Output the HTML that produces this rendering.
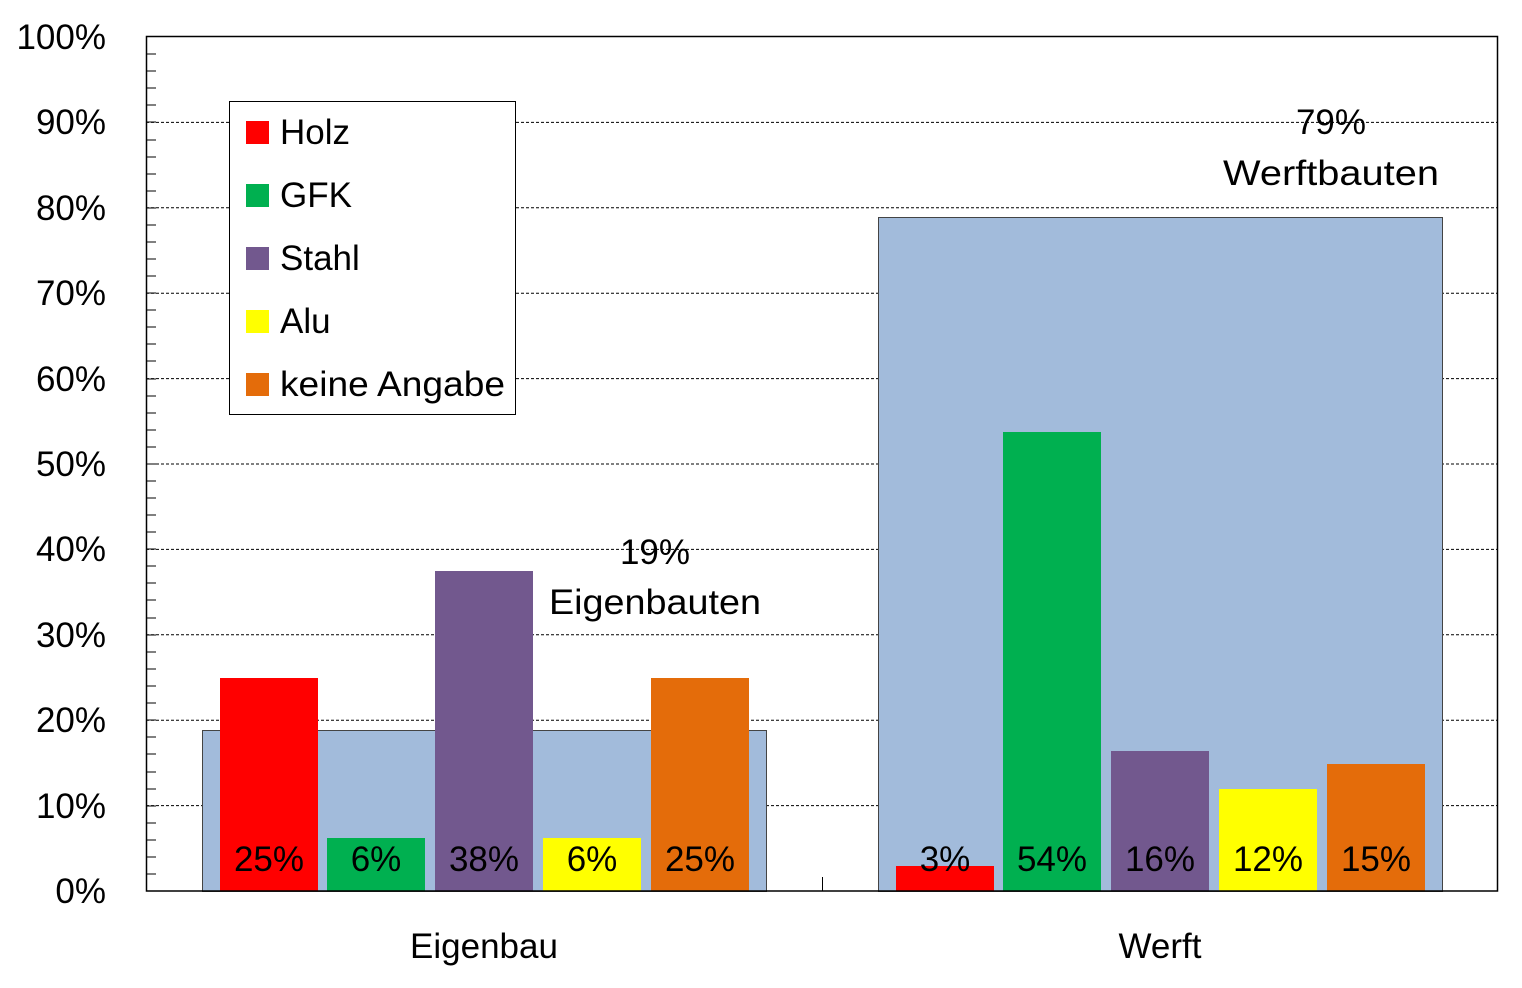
<!DOCTYPE html>
<html><head><style>
body{margin:0;background:#fff;}
svg text{font-family:"Liberation Sans",sans-serif;}
</style></head><body>
<svg width="1522" height="983" xmlns="http://www.w3.org/2000/svg">
<rect width="1522" height="983" fill="#fff"/>
<g stroke="#000" stroke-width="1" stroke-dasharray="3,2">
<line x1="146" x2="1498" y1="805.6" y2="805.6"/>
<line x1="146" x2="1498" y1="720.2" y2="720.2"/>
<line x1="146" x2="1498" y1="634.8" y2="634.8"/>
<line x1="146" x2="1498" y1="549.4" y2="549.4"/>
<line x1="146" x2="1498" y1="464" y2="464"/>
<line x1="146" x2="1498" y1="378.6" y2="378.6"/>
<line x1="146" x2="1498" y1="293.2" y2="293.2"/>
<line x1="146" x2="1498" y1="207.8" y2="207.8"/>
<line x1="146" x2="1498" y1="122.4" y2="122.4"/>
</g>
<rect x="202.5" y="730.5" width="564" height="161" fill="#a2bbdb" stroke="#444" stroke-width="1"/>
<rect x="878.5" y="217.5" width="564" height="674" fill="#a2bbdb" stroke="#444" stroke-width="1"/>
<rect x="220" y="678" width="98" height="213" fill="#ff0000"/>
<rect x="327" y="838" width="98" height="53" fill="#00b050"/>
<rect x="435" y="571" width="98" height="320" fill="#72588e"/>
<rect x="543" y="838" width="98" height="53" fill="#ffff00"/>
<rect x="651" y="678" width="98" height="213" fill="#e46c0a"/>
<rect x="896" y="866" width="98" height="25" fill="#ff0000"/>
<rect x="1003" y="432" width="98" height="459" fill="#00b050"/>
<rect x="1111" y="751" width="98" height="140" fill="#72588e"/>
<rect x="1219" y="789" width="98" height="102" fill="#ffff00"/>
<rect x="1327" y="764" width="98" height="127" fill="#e46c0a"/>
<g font-size="35" text-anchor="middle" fill="#000">
<text x="269" y="871">25%</text><text x="376" y="871">6%</text><text x="484" y="871">38%</text><text x="592" y="871">6%</text><text x="700" y="871">25%</text>
<text x="945" y="871">3%</text><text x="1052" y="871">54%</text><text x="1160" y="871">16%</text><text x="1268" y="871">12%</text><text x="1376" y="871">15%</text>
<text x="655" y="564">19%</text><text x="655" y="614" textLength="212" lengthAdjust="spacingAndGlyphs">Eigenbauten</text>
<text x="1331" y="134">79%</text><text x="1331" y="185" textLength="216" lengthAdjust="spacingAndGlyphs">Werftbauten</text>
</g>
<rect x="146.5" y="36.5" width="1351" height="854.5" fill="none" stroke="#000" stroke-width="1.5"/>
<g stroke="#000" stroke-width="1">
<path d="M146 874h10M146 857h10M146 840h10M146 823h10M146 806h10M146 789h10M146 772h10M146 754h10M146 737h10M146 720h10M146 703h10M146 686h10M146 669h10M146 652h10M146 635h10M146 618h10M146 600h10M146 583h10M146 566h10M146 549h10M146 532h10M146 515h10M146 498h10M146 481h10M146 464h10M146 447h10M146 430h10M146 413h10M146 396h10M146 379h10M146 361h10M146 344h10M146 327h10M146 310h10M146 293h10M146 276h10M146 259h10M146 242h10M146 225h10M146 208h10M146 191h10M146 174h10M146 157h10M146 140h10M146 122h10M146 105h10M146 88h10M146 71h10M146 54h10"/>
<line x1="822.5" y1="877" x2="822.5" y2="891"/>
</g>
<g font-size="35" text-anchor="end" fill="#000">
<text x="106" y="903">0%</text><text x="106" y="818">10%</text><text x="106" y="732">20%</text><text x="106" y="647">30%</text><text x="106" y="561">40%</text><text x="106" y="476">50%</text><text x="106" y="391">60%</text><text x="106" y="305">70%</text><text x="106" y="220">80%</text><text x="106" y="134">90%</text><text x="106" y="49">100%</text>
</g>
<g font-size="35" text-anchor="middle" fill="#000">
<text x="484" y="958">Eigenbau</text><text x="1160" y="958">Werft</text>
</g>
<rect x="229.5" y="101.5" width="286" height="313" fill="#fff" stroke="#000" stroke-width="1"/>
<rect x="246" y="121" width="23" height="23" fill="#ff0000"/>
<rect x="246" y="184" width="23" height="23" fill="#00b050"/>
<rect x="246" y="247" width="23" height="23" fill="#72588e"/>
<rect x="246" y="310" width="23" height="23" fill="#ffff00"/>
<rect x="246" y="373" width="23" height="23" fill="#e46c0a"/>
<g font-size="35" fill="#000">
<text x="280" y="144">Holz</text><text x="280" y="207">GFK</text><text x="280" y="270">Stahl</text><text x="280" y="333">Alu</text><text x="280" y="396" textLength="225" lengthAdjust="spacingAndGlyphs">keine Angabe</text>
</g>
</svg>
</body></html>
